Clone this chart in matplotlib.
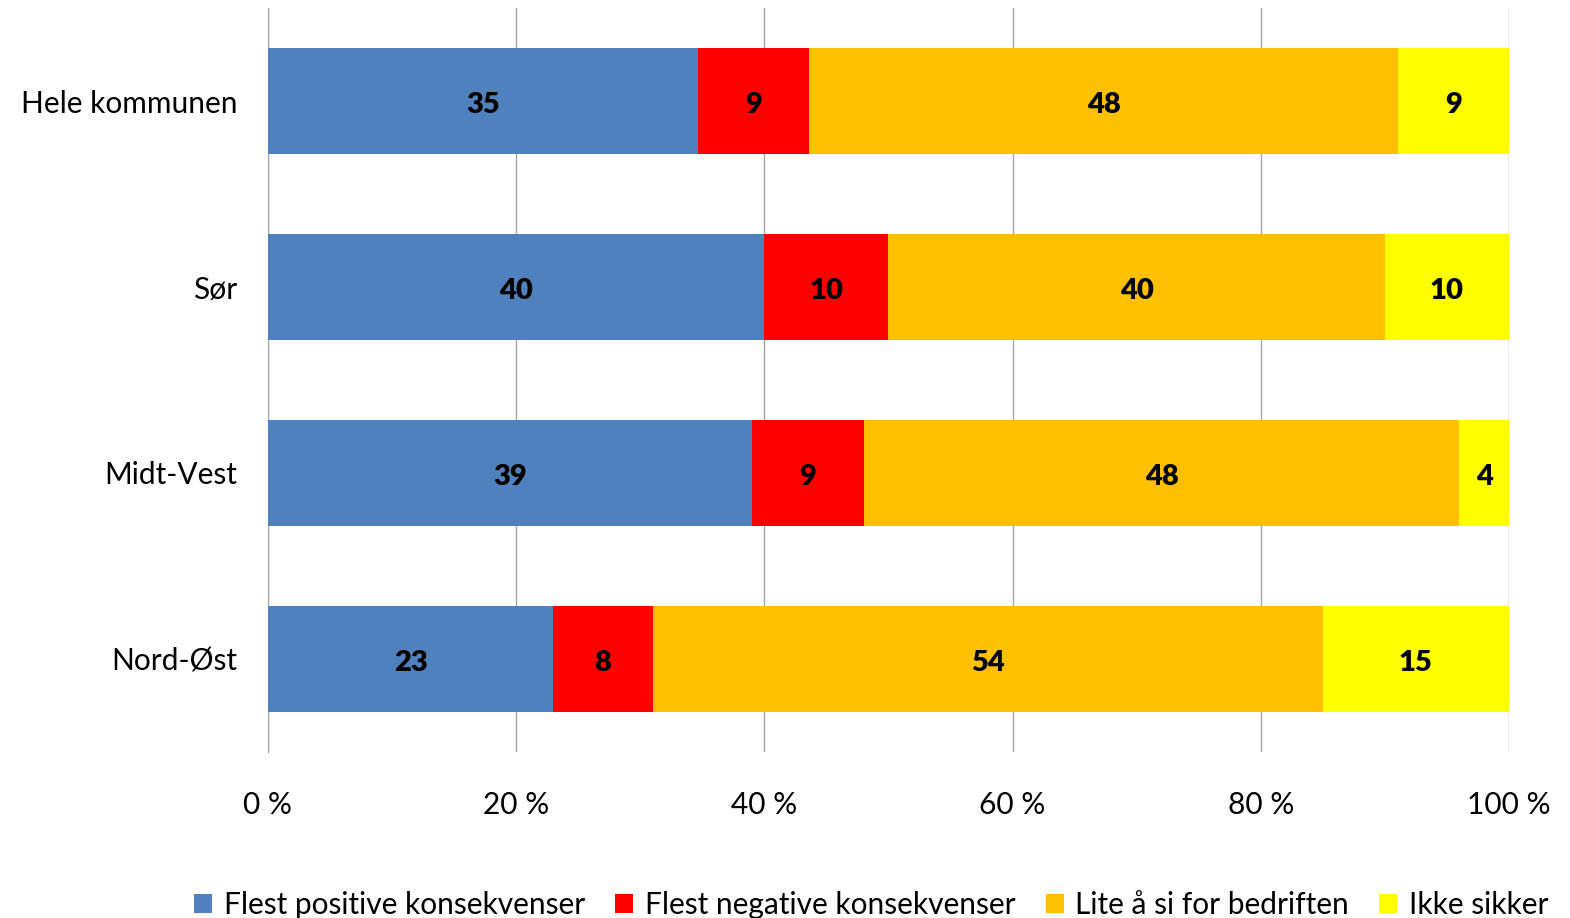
import matplotlib.pyplot as plt
import numpy as np

plt.rcParams['font.family'] = ['Lato', 'DejaVu Sans']

regions = ['Hele kommunen', 'Sør', 'Midt-Vest', 'Nord-Øst']
positive = [35, 40, 39, 23]
negative = [9, 10, 9, 8]
lite = [48, 40, 48, 54]
usikker = [9, 10, 4, 15]

series_names = ['Flest positive konsekvenser', 'Flest negative konsekvenser',
                'Lite å si for bedriften', 'Ikke sikker']
colors = ['#4F81BD', '#FF0000', '#FFC000', '#FFFF00']

data = np.array([positive, negative, lite, usikker], dtype=float)
shares = data / data.sum(axis=0) * 100

fig = plt.figure(figsize=(15.7, 9.18), dpi=100)
ax = fig.add_axes([0.1707, 0.181, 0.7904, 0.810])

y = np.arange(len(regions))
left = np.zeros(len(regions))
for i in range(len(series_names)):
    bars = ax.barh(y, shares[i], left=left, height=0.57, color=colors[i],
                   label=series_names[i], zorder=3)
    for j, b in enumerate(bars):
        ax.text(left[j] + shares[i][j] / 2, y[j] + 0.02, '%d' % data[i][j],
                ha='center', va='center', fontsize=21, fontweight='heavy', zorder=4)
    left += shares[i]

ax.set_xlim(0, 100)
ax.set_ylim(3.5, -0.5)
ax.set_yticks(y)
ax.set_yticklabels(regions, fontsize=21.5)
ax.set_xticks(np.arange(0, 101, 20))
ax.set_xticklabels(['%d %%' % v for v in range(0, 101, 20)], fontsize=21.5)
ax.tick_params(axis='both', length=0)
ax.tick_params(axis='y', pad=22)
ax.tick_params(axis='x', pad=28)
ax.grid(axis='x', color='#A6A6A6', linewidth=1, zorder=0)
for s in ['top', 'right', 'bottom']:
    ax.spines[s].set_visible(False)
ax.spines['left'].set_color('#A6A6A6')

fig.legend(loc='lower center', bbox_to_anchor=(0.555, -0.03), ncol=4, frameon=False,
           fontsize=21.5, handlelength=0.6, handleheight=0.6, handletextpad=0.4,
           columnspacing=1.0)

fig.savefig('out.png', dpi=100)
